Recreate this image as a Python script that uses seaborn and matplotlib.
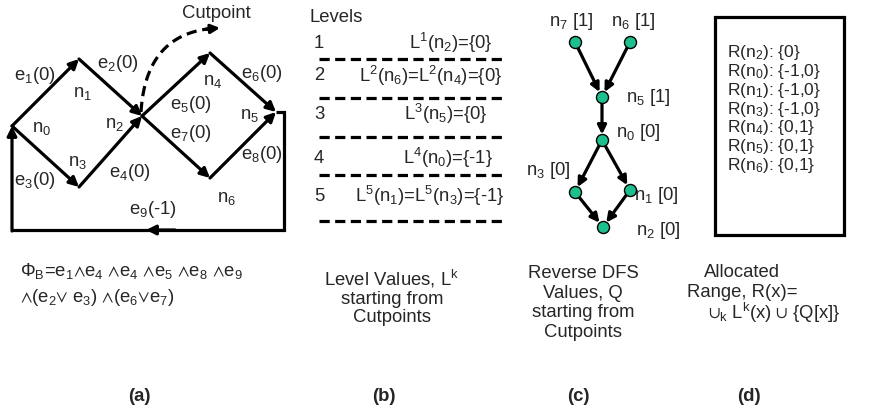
import numpy as np
import pandas as pd
import matplotlib
matplotlib.use('Agg')
import matplotlib.pyplot as plt
import seaborn as sns

sns.set_theme(style='white')
plt.rcParams['font.family'] = ['Liberation Sans', 'DejaVu Sans']
plt.rcParams['mathtext.fontset'] = 'custom'
plt.rcParams['mathtext.rm'] = 'Liberation Sans'
plt.rcParams['mathtext.it'] = 'Liberation Sans'
plt.rcParams['mathtext.bf'] = 'Liberation Sans:bold'
plt.rcParams['mathtext.default'] = 'regular'

# ================= данные =================
# (a) граф потока управления
cfg_nodes = ['n0', 'n1', 'n2', 'n3', 'n4', 'n5', 'n6']
cfg_edges = [('n0', 'n1'), ('n1', 'n2'), ('n0', 'n3'), ('n3', 'n2'),
             ('n2', 'n4'), ('n4', 'n5'), ('n2', 'n6'), ('n6', 'n5')]
cfg_edge_ids = [1, 2, 3, 4, 5, 6, 7, 8]
cfg_edge_weights = [0, 0, 0, 0, 0, 0, 0, 0]
back_edge_id = 9
back_edge_weight = -1
formula_lines = [r'$\Phi_B$=e$_1$$\wedge$e$_4$ $\wedge$e$_4$ $\wedge$e$_5$ $\wedge$e$_8$ $\wedge$e$_9$',
                 r'$\wedge$(e$_2$$\vee$ e$_3$) $\wedge$(e$_6$$\vee$e$_7$)']

# (b) уровни
level_ids = [1, 2, 3, 4, 5]
level_texts = [r'L$^1$(n$_2$)={0}',
               r'L$^2$(n$_6$)=L$^2$(n$_4$)={0}',
               r'L$^3$(n$_5$)={0}',
               r'L$^4$(n$_0$)={-1}',
               r'L$^5$(n$_1$)=L$^5$(n$_3$)={-1}']

# (c) обратный DFS
dfs_nodes = ['n7', 'n6', 'n5', 'n0', 'n3', 'n1', 'n2']
dfs_q = [1, 1, 1, 0, 0, 0, 0]
dfs_edges = [('n7', 'n5'), ('n6', 'n5'), ('n5', 'n0'), ('n0', 'n3'),
             ('n0', 'n1'), ('n3', 'n2'), ('n1', 'n2')]

# (d) выделенные диапазоны
range_nodes = [2, 0, 1, 3, 4, 5, 6]
range_values = ['{0}', '{-1,0}', '{-1,0}', '{-1,0}', '{0,1}', '{0,1}', '{0,1}']

# ================= раскладка (пиксели) =================
cfg_pos = {'n0': (12, 126), 'n1': (79, 59), 'n2': (142, 116), 'n3': (79, 187),
           'n4': (210, 53), 'n5': (276, 112), 'n6': (210, 178)}
cfg_label_pos = {'n0': (42, 128), 'n1': (83, 93), 'n2': (115, 124), 'n3': (78, 162),
                 'n4': (213, 82), 'n5': (250, 115), 'n6': (227, 198)}
edge_label_pos = [(35, 75), (118, 63), (35, 180), (130, 172),
                  (191, 104), (262, 74), (191, 133), (262, 154)]
back_label_pos = (153, 209)
loop_x, loop_y = 284, 230

level_rows = [43, 76, 114, 158, 196]
level_lines = [59, 98, 137, 175, 221]
level_text_x = [451, 431, 446, 448, 430]

dfs_pos = {'n7': (575, 42), 'n6': (630, 42), 'n5': (602, 97), 'n0': (602, 140),
           'n3': (575, 192), 'n1': (630, 190), 'n2': (603, 227)}
dfs_label_pos = {'n7': (571, 22), 'n6': (633, 22), 'n5': (648, 97), 'n0': (638, 132),
                 'n3': (548, 170), 'n1': (656, 195), 'n2': (658, 230)}

FS = 13.3
FS_D = 12.5
LW = 2.3

fig = plt.figure(figsize=(8.7, 4.11), dpi=100)
ax = fig.add_axes([0, 0, 1, 1])
ax.set_xlim(0, 870)
ax.set_ylim(411, 0)
ax.axis('off')


def arrow(p, q, sa=0, sb=0, ms=14):
    ax.annotate('', xy=q, xytext=p,
                arrowprops=dict(arrowstyle='-|>', color='black', lw=LW,
                                mutation_scale=ms, shrinkA=sa, shrinkB=sb))


# ---------- (a) ----------
for (s, t) in cfg_edges:
    arrow(cfg_pos[s], cfg_pos[t])
for (s, t), i, w, (x, y) in zip(cfg_edges, cfg_edge_ids, cfg_edge_weights, edge_label_pos):
    ax.text(x, y, f'e$_{i}$({w})', fontsize=FS, ha='center', va='center')
for n in cfg_nodes:
    x, y = cfg_label_pos[n]
    ax.text(x, y, f'n$_{n[1]}$', fontsize=FS, ha='center', va='center')

# обратное ребро e9
x5, y5 = cfg_pos['n5']
x0, y0 = cfg_pos['n0']
ax.plot([x5, loop_x, loop_x, x0], [y5, y5, loop_y, loop_y], color='black', lw=LW,
        solid_joinstyle='miter', solid_capstyle='butt')
arrow((x0, loop_y + 1), (x0, y0))
arrow((175, loop_y), (146, loop_y))
ax.text(*back_label_pos, f'e$_{back_edge_id}$({back_edge_weight})', fontsize=FS,
        ha='center', va='center')

# точка разреза
t = np.linspace(0, 0.93, 60)
p0, pc, p1 = np.array([141, 112]), np.array([146, 30]), np.array([220, 28])
curve = ((1 - t) ** 2)[:, None] * p0 + (2 * (1 - t) * t)[:, None] * pc + (t ** 2)[:, None] * p1
ax.plot(curve[:, 0], curve[:, 1], color='black', lw=LW, ls=(0, (3.2, 1.8)))
arrow(tuple(curve[-3]), tuple(p1), ms=13)
ax.text(182, 13, 'Cutpoint', fontsize=FS, ha='left', va='center')

ax.text(20, 271, formula_lines[0], fontsize=FS, ha='left', va='center')
ax.text(20, 297, formula_lines[1], fontsize=FS, ha='left', va='center')

# ---------- (b) ----------
ax.text(310, 18, 'Levels', fontsize=FS, ha='left', va='center')
for k, ry, ly, tx, txt in zip(level_ids, level_rows, level_lines, level_text_x, level_texts):
    ax.text(314, ry, str(k), fontsize=FS, ha='left', va='center')
    ax.text(tx, ry, txt, fontsize=FS, ha='center', va='center')
    ax.plot([319, 505], [ly, ly], color='black', lw=LW, ls=(0, (3.2, 1.7)),
            solid_capstyle='butt', dash_capstyle='butt')

# ---------- (c) ----------
for (s, t) in dfs_edges:
    arrow(dfs_pos[s], dfs_pos[t], sa=4, sb=4, ms=13)
dfs_df = pd.DataFrame({'node': dfs_nodes,
                       'x': [dfs_pos[n][0] for n in dfs_nodes],
                       'y': [dfs_pos[n][1] for n in dfs_nodes]})
sns.scatterplot(data=dfs_df, x='x', y='y', ax=ax, s=75, color='#1dbf8e',
                edgecolor='black', linewidth=1.0, zorder=5)
for n, q in zip(dfs_nodes, dfs_q):
    x, y = dfs_label_pos[n]
    ax.text(x, y, f'n$_{n[1]}$ [{q}]', fontsize=FS, ha='center', va='center')
ax.set_xlim(0, 870)
ax.set_ylim(411, 0)
ax.axis('off')

# ---------- (d) ----------
ax.add_patch(plt.Rectangle((715, 17), 129, 218, fill=False, ec='black', lw=LW))
for i, (n, r) in enumerate(zip(range_nodes, range_values)):
    ax.text(727, 53 + i * 18.7, f'R(n$_{n}$): {r}', fontsize=FS_D, ha='left', va='center')

# ---------- подписи ----------
ax.text(392, 279, r'Level Values, L$^k$', fontsize=FS, ha='center', va='center')
ax.text(392, 299, 'starting from', fontsize=FS, ha='center', va='center')
ax.text(392, 317, 'Cutpoints', fontsize=FS, ha='center', va='center')

ax.text(583, 273, 'Reverse DFS', fontsize=FS, ha='center', va='center')
ax.text(583, 293, 'Values, Q', fontsize=FS, ha='center', va='center')
ax.text(583, 312, 'starting from', fontsize=FS, ha='center', va='center')
ax.text(583, 332, 'Cutpoints', fontsize=FS, ha='center', va='center')

ax.text(742, 272, 'Allocated', fontsize=FS, ha='center', va='center')
ax.text(742, 292, 'Range, R(x)=', fontsize=FS, ha='center', va='center')
ax.text(774, 313, r'$\cup_k$ L$^k$(x) $\cup$ {Q[x]}', fontsize=FS, ha='center', va='center')

for lab, x in zip(['(a)', '(b)', '(c)', '(d)'], [139, 384, 578, 749]):
    ax.text(x, 396, lab, fontsize=FS, ha='center', va='center', fontweight='bold')

fig.savefig('out.png', dpi=100, facecolor='white')
